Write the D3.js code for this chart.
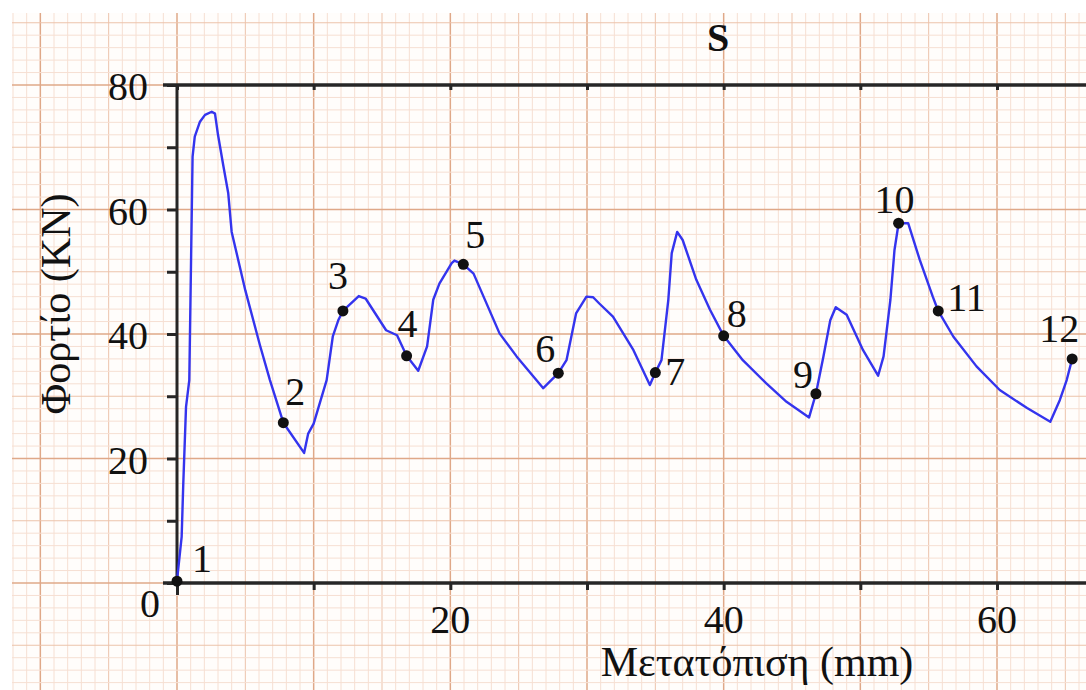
<!DOCTYPE html>
<html>
<head>
<meta charset="utf-8">
<script src="https://cdn.jsdelivr.net/npm/d3@7"></script>
<style>
  body { margin: 0; background: #fff; }
  text { font-family: "Liberation Serif", "Times New Roman", serif; fill: #111; }
</style>
</head>
<body>
<div id="chart"></div>
<script>
// curve: displacement (mm) vs load (kN)
var dispMm = [0, 0.34, 0.46, 0.66, 0.9, 1.14, 1.3, 1.68, 2.05, 2.54, 2.78, 3.0, 3.4, 3.75, 4.0, 5.0, 6.07, 6.8, 7.78,
  9.3, 9.6, 10.0, 10.95, 11.4, 11.8, 12.14, 13.3, 13.8, 15.3, 16.1, 16.8, 17.65, 18.3, 18.75, 19.2, 20.1, 20.3, 20.95,
  21.7, 23.6, 24.85, 26.8, 27.9, 28.5, 29.2, 29.96, 30.45, 30.9, 31.9, 33.4, 34.6, 35.0, 35.45, 35.95, 36.2, 36.6, 37.0,
  38.0, 39.0, 40.0, 41.4, 43.1, 44.6, 46.25, 46.75, 47.3, 47.8, 48.2, 49.0, 50.2, 51.3, 51.7, 52.2, 52.5, 52.8, 53.5,
  54.35, 55.3, 55.7, 56.8, 58.5, 60.2, 62.2, 63.9, 64.6, 65.1, 65.5];
var loadKn = [0.4, 7.4, 16, 28.3, 32.6, 68.5, 71.7, 74.1, 75.2, 75.7, 75.4, 72, 66.9, 62.6, 56.4, 47, 38.2, 32.6, 25.75,
  20.9, 24, 25.6, 32.6, 39.6, 42.2, 43.7, 46.1, 45.7, 40.6, 39.8, 36.5, 34.1, 38, 45.5, 48.1, 51.4, 51.8, 51.2,
  49.7, 40.1, 36.4, 31.3, 33.7, 35.8, 43.3, 46, 45.9, 44.9, 42.8, 37.4, 31.8, 33.8, 35.8, 45.5, 53, 56.4, 55.1,
  48.7, 43.9, 39.7, 35.8, 32.1, 29.1, 26.6, 30.4, 36.4, 42.2, 44.3, 43.1, 37.4, 33.3, 36.4, 45.5, 53.5, 57.8, 57.8,
  51.9, 46, 43.7, 39.6, 34.8, 31, 28.1, 25.9, 29.4, 32.6, 36];

// numbered points
var pointNames = ["1", "2", "3", "4", "5", "6", "7", "8", "9", "10", "11", "12"];
var pointMm = [0, 7.78, 12.14, 16.8, 20.95, 27.9, 35.0, 40.0, 46.75, 52.8, 55.7, 65.5];
var pointKn = [0.3, 25.75, 43.7, 36.5, 51.2, 33.7, 33.8, 39.7, 30.4, 57.8, 43.7, 36];

var xTicks = [0, 10, 20, 30, 40, 50, 60];
var xTickLabels = ["0", "", "20", "", "40", "", "60"];
var yTicks = [0, 10, 20, 30, 40, 50, 60, 70, 80];
var yTickLabels = ["0", "", "20", "", "40", "", "60", "", "80"];

// label offsets from each point, in px (text start, baseline)
var labelOffset = [[15, -9], [2, -18], [-15, -22], [-9, -19], [2, -16], [-23, -11],
  [10, 12], [3, -9], [-23, -6], [-24, -10], [9, 0], [-33, -17]];

var width = 1086, height = 690;

var svg = d3.select("#chart")
  .append("svg")
  .attr("width", width)
  .attr("height", height);

var x = d3.scaleLinear().domain([0, 60]).range([177, 997]);
var y = d3.scaleLinear().domain([0, 80]).range([583, 85]);

// graph paper
var paper = {left: 12, top: 13};
svg.append("rect")
  .attr("x", paper.left).attr("y", paper.top)
  .attr("width", width - paper.left).attr("height", height - paper.top)
  .attr("fill", "#fffdfb");

var vLines = d3.range(-12, 67, 1);
var hLines = d3.range(-16, 92, 2);
function gridColor(v, big, mid) {
  if (v % big === 0) return "#dfa888";
  if (v % mid === 0) return "#ecc3ab";
  return "#f6dfd2";
}
var grid = svg.append("g");
grid.selectAll(".vl")
  .data(vLines.slice().sort(function(a, b) { return (a % 5 === 0) - (b % 5 === 0); }))
  .enter().append("line")
  .attr("x1", function(d) { return x(d); })
  .attr("x2", function(d) { return x(d); })
  .attr("y1", paper.top).attr("y2", height)
  .attr("stroke", function(d) { return gridColor(d, 10, 5); })
  .attr("stroke-width", function(d) { return d % 10 === 0 ? 1.5 : 1; });
grid.selectAll(".hl")
  .data(hLines.slice().sort(function(a, b) { return (a % 10 === 0) - (b % 10 === 0); }))
  .enter().append("line")
  .attr("y1", function(d) { return y(d); })
  .attr("y2", function(d) { return y(d); })
  .attr("x1", paper.left).attr("x2", width)
  .attr("stroke", function(d) { return gridColor(d, 20, 10); })
  .attr("stroke-width", function(d) { return d % 20 === 0 ? 1.5 : 1; });

// axes
var axisColor = "#262626";
var xLeft = x.invert(163), xRight = x.invert(width);

svg.append("g")
  .attr("transform", "translate(" + x(0) + ",0)")
  .call(d3.axisLeft(y).tickValues(yTicks).tickSize(10).tickSizeOuter(0).tickFormat(""))
  .call(function(g) {
    g.select(".domain").remove();
    g.selectAll(".tick line").attr("stroke", axisColor).attr("stroke-width", 3);
  });

svg.append("g")
  .attr("transform", "translate(0," + y(0) + ")")
  .call(d3.axisBottom(x).tickValues(xTicks).tickSize(7).tickSizeOuter(0).tickFormat(""))
  .call(function(g) {
    g.select(".domain").remove();
    g.selectAll(".tick line").attr("stroke", axisColor).attr("stroke-width", 3)
      .attr("y2", function(d) { return d === 0 ? 12 : 7; });
  });

svg.append("g")
  .attr("transform", "translate(0," + y(80) + ")")
  .call(d3.axisBottom(x).tickValues(xTicks).tickSize(5).tickSizeOuter(0).tickFormat(""))
  .call(function(g) {
    g.select(".domain").remove();
    g.selectAll(".tick line").attr("stroke", axisColor).attr("stroke-width", 3);
  });

// frame lines: bottom, top, left
svg.append("line")
  .attr("x1", x(xLeft)).attr("x2", x(xRight))
  .attr("y1", y(0)).attr("y2", y(0))
  .attr("stroke", axisColor).attr("stroke-width", 3.5);
svg.append("line")
  .attr("x1", x(xLeft)).attr("x2", x(xRight))
  .attr("y1", y(80)).attr("y2", y(80))
  .attr("stroke", axisColor).attr("stroke-width", 3.5);
svg.append("line")
  .attr("x1", x(0)).attr("x2", x(0))
  .attr("y1", y(80)).attr("y2", y(0))
  .attr("stroke", axisColor).attr("stroke-width", 3);

// tick labels
svg.selectAll(".ylab")
  .data(yTicks)
  .enter().append("text")
  .attr("x", function(d) { return d === 0 ? 160 : 148; })
  .attr("y", function(d) { return d === 0 ? 617 : y(d) + 15; })
  .style("text-anchor", "end")
  .style("font-size", "40px")
  .text(function(d, i) { return yTickLabels[i]; });

svg.selectAll(".xlab")
  .data(xTicks.filter(function(d) { return d > 0; }))
  .enter().append("text")
  .attr("x", function(d) { return x(d); })
  .attr("y", 633)
  .style("text-anchor", "middle")
  .style("font-size", "40px")
  .text(function(d) { return xTickLabels[xTicks.indexOf(d)]; });

// titles
svg.append("text")
  .attr("x", 718).attr("y", 51)
  .style("text-anchor", "middle")
  .style("font-size", "40px")
  .style("font-weight", "bold")
  .text("S");

svg.append("text")
  .attr("transform", "translate(70," + 304 + ") rotate(-90)")
  .style("text-anchor", "middle")
  .style("font-size", "42px")
  .text("Φορτίο (KN)");

svg.append("text")
  .attr("x", 757).attr("y", 676)
  .style("text-anchor", "middle")
  .style("font-size", "42px")
  .text("Μετατόπιση (mm)");

// curve
var curve = dispMm.map(function(d, i) { return [d, loadKn[i]]; });
svg.append("path")
  .datum(curve)
  .attr("fill", "none")
  .attr("stroke", "#3434ee")
  .attr("stroke-width", 2.4)
  .attr("stroke-linejoin", "round")
  .attr("d", d3.line()
    .x(function(d) { return x(d[0]); })
    .y(function(d) { return y(d[1]); }));

// numbered points
svg.selectAll(".pt")
  .data(pointMm)
  .enter().append("circle")
  .attr("cx", function(d) { return x(d); })
  .attr("cy", function(d, i) { return y(pointKn[i]); })
  .attr("r", 5.5)
  .attr("fill", "#111");

svg.selectAll(".ptlab")
  .data(pointMm)
  .enter().append("text")
  .attr("x", function(d, i) { return x(d) + labelOffset[i][0]; })
  .attr("y", function(d, i) { return y(pointKn[i]) + labelOffset[i][1]; })
  .style("font-size", "40px")
  .text(function(d, i) { return pointNames[i]; });
</script>
</body>
</html>
